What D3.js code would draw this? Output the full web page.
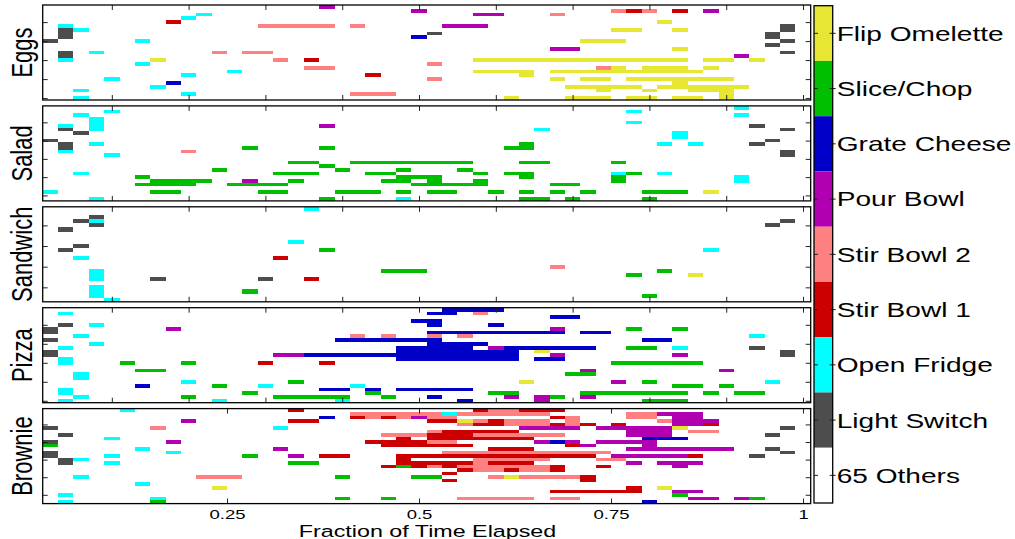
<!DOCTYPE html>
<html>
<head>
<meta charset="utf-8">
<script src="https://cdn.jsdelivr.net/npm/d3@7"></script>
<style>
  body { margin: 0; background: #fff; }
  svg { display: block; }
</style>
</head>
<body>
<script>
// categories, top to bottom of the colour bar
var catNames = ["Flip Omelette", "Slice/Chop", "Grate Cheese", "Pour Bowl", "Stir Bowl 2",
                "Stir Bowl 1", "Open Fridge", "Light Switch", "65 Others"];
var catCodes = ["Y", "G", "B", "P", "S", "R", "C", "L", "O"];
var catColors = ["#e6e633", "#00bf00", "#0000c8", "#b000b0", "#ff8080",
                 "#cc0000", "#00ffff", "#4d4d4d", "#ffffff"];

var dishes = ["Eggs", "Salad", "Sandwich", "Pizza", "Brownie"];
var rowCounts = [25, 26, 23, 25, 27];
var nBins = 50;

// [row, first bin, last bin, activity]
var eggsSegs = [
  [1,19,19,"P"],
  [2,25,25,"P"],[2,38,38,"S"],[2,39,39,"R"],[2,40,40,"S"],[2,42,42,"R"],[2,44,44,"P"],
  [3,11,11,"C"],[3,29,30,"P"],[3,34,34,"S"],
  [4,10,10,"C"],
  [5,9,9,"R"],[5,41,41,"Y"],
  [6,2,2,"C"],[6,15,19,"S"],[6,21,21,"S"],[6,27,29,"P"],[6,49,49,"L"],
  [7,2,2,"L"],[7,3,3,"C"],[7,38,39,"Y"],[7,42,42,"Y"],[7,49,49,"L"],
  [8,2,2,"L"],[8,26,26,"L"],[8,48,48,"L"],
  [9,2,2,"L"],[9,25,25,"B"],[9,48,48,"L"],
  [10,1,1,"L"],[10,7,7,"C"],[10,36,38,"Y"],[10,49,49,"L"],
  [11,48,48,"L"],
  [12,34,35,"P"],[12,42,42,"Y"],
  [13,2,2,"L"],[13,4,4,"C"],[13,12,12,"S"],[13,14,15,"S"],[13,49,49,"L"],
  [14,2,2,"L"],[14,46,46,"P"],
  [15,2,2,"C"],[15,8,8,"Y"],[15,16,16,"S"],[15,18,18,"R"],[15,29,42,"Y"],[15,44,45,"Y"],[15,47,47,"Y"],
  [16,7,7,"C"],[16,26,26,"S"],
  [17,18,19,"S"],[17,37,37,"S"],[17,38,38,"Y"],[17,40,42,"Y"],[17,44,44,"Y"],
  [18,13,13,"C"],[18,29,32,"Y"],[18,34,43,"Y"],
  [19,10,10,"C"],[19,22,22,"R"],[19,32,32,"Y"],
  [20,5,5,"C"],[20,26,26,"S"],[20,34,34,"Y"],[20,36,37,"Y"],[20,39,45,"Y"],
  [21,9,9,"B"],[21,42,42,"Y"],
  [22,8,8,"C"],[22,35,39,"Y"],[22,41,46,"Y"],
  [23,3,3,"C"],[23,37,37,"Y"],[23,40,40,"Y"],[23,43,45,"Y"],
  [24,10,10,"C"],[24,21,23,"S"],[24,45,45,"Y"],
  [25,3,3,"C"],[25,31,31,"Y"],[25,35,37,"Y"],[25,39,40,"Y"],[25,42,43,"Y"],[25,45,45,"Y"]
];

var saladSegs = [
  [1,46,46,"C"],
  [2,5,5,"C"],[2,39,39,"C"],
  [3,3,3,"C"],[3,46,46,"C"],
  [4,4,4,"C"],
  [5,4,4,"C"],[5,39,39,"C"],
  [6,2,2,"C"],[6,4,4,"C"],[6,19,19,"P"],[6,47,47,"L"],
  [7,2,2,"L"],[7,4,4,"C"],[7,33,33,"C"],[7,49,49,"L"],
  [8,3,3,"L"],[8,42,42,"C"],
  [9,42,42,"C"],
  [10,1,1,"L"],[10,48,48,"L"],
  [11,2,2,"L"],[11,4,4,"C"],[11,32,32,"G"],[11,41,41,"C"],[11,43,43,"C"],[11,47,47,"L"],
  [12,2,2,"L"],[12,14,14,"G"],[12,19,19,"G"],[12,31,32,"G"],
  [13,2,2,"C"],[13,10,10,"S"],[13,49,49,"L"],
  [14,5,5,"C"],[14,49,49,"L"],
  [16,17,18,"G"],[16,21,28,"G"],[16,32,33,"G"],[16,38,38,"G"],
  [17,19,19,"G"],
  [18,12,12,"G"],[18,20,20,"G"],[18,24,24,"G"],[18,28,28,"G"],
  [19,3,3,"C"],[19,16,18,"G"],[19,22,23,"G"],[19,29,29,"G"],[19,31,32,"G"],[19,38,38,"C"],[19,39,39,"G"],[19,41,41,"C"],
  [20,7,7,"G"],[20,24,26,"G"],[20,32,32,"G"],[20,38,38,"G"],[20,46,46,"C"],
  [21,8,11,"G"],[21,14,14,"P"],[21,17,17,"G"],[21,23,24,"G"],[21,26,26,"G"],[21,29,29,"G"],[21,38,38,"G"],[21,46,46,"C"],
  [22,7,10,"G"],[22,13,16,"G"],[22,25,29,"G"],[22,34,35,"G"],
  [24,1,1,"C"],[24,8,9,"G"],[24,15,16,"G"],[24,20,22,"G"],[24,24,24,"G"],[24,26,27,"G"],[24,30,30,"G"],
  [24,32,32,"G"],[24,34,34,"G"],[24,36,36,"G"],[24,40,42,"G"],[24,44,44,"Y"],
  [26,4,4,"C"],[26,19,19,"G"],[26,24,24,"C"],[26,32,33,"G"],[26,35,35,"G"],[26,40,40,"G"]
];

var sandwichSegs = [
  [1,18,18,"C"],
  [3,4,4,"L"],
  [4,3,3,"L"],[4,4,4,"C"],[4,49,49,"L"],
  [5,4,4,"L"],[5,48,48,"L"],
  [6,2,2,"L"],
  [9,17,17,"C"],
  [10,3,3,"L"],
  [11,2,2,"L"],[11,19,19,"G"],[11,44,44,"C"],
  [13,3,3,"C"],[13,16,16,"R"],
  [15,34,34,"S"],
  [16,4,4,"C"],[16,23,25,"G"],[16,41,41,"G"],
  [17,4,4,"C"],[17,39,39,"G"],[17,43,43,"Y"],
  [18,4,4,"C"],[18,8,8,"L"],[18,15,15,"L"],[18,18,18,"R"],
  [20,4,4,"C"],
  [21,4,4,"C"],[21,14,14,"G"],
  [22,4,4,"C"],[22,40,40,"G"],
  [23,5,5,"C"]
];

var pizzaSegs = [
  [1,27,30,"B"],
  [2,2,2,"C"],[2,26,27,"B"],[2,29,29,"S"],
  [3,34,35,"B"],
  [4,25,26,"B"],
  [5,2,2,"L"],[5,4,4,"C"],[5,26,26,"B"],[5,30,30,"B"],
  [6,1,1,"L"],[6,9,9,"P"],[6,34,34,"P"],[6,39,39,"G"],[6,42,42,"G"],
  [7,1,1,"L"],[7,26,34,"B"],[7,36,37,"B"],
  [8,3,3,"C"],[8,21,21,"S"],[8,23,23,"S"],[8,26,26,"S"],[8,28,28,"S"],[8,47,47,"C"],
  [9,1,1,"L"],[9,20,26,"B"],[9,40,41,"B"],
  [10,4,4,"C"],[10,26,29,"B"],
  [11,2,2,"C"],[11,24,28,"B"],[11,30,30,"P"],[11,31,36,"B"],[11,39,40,"G"],[11,42,42,"C"],[11,47,47,"L"],
  [12,1,1,"L"],[12,24,31,"B"],[12,33,33,"Y"],[12,49,49,"L"],
  [13,1,1,"L"],[13,16,17,"P"],[13,18,31,"B"],[13,34,34,"P"],[13,42,42,"P"],[13,49,49,"L"],
  [14,2,2,"C"],[14,24,31,"B"],[14,33,34,"B"],
  [15,2,2,"C"],[15,6,6,"G"],[15,10,10,"G"],[15,15,15,"R"],[15,19,19,"R"],[15,38,43,"G"],
  [17,7,8,"G"],[17,36,36,"P"],[17,45,45,"P"],
  [18,3,3,"C"],[18,35,36,"G"],
  [19,3,3,"C"],
  [20,10,10,"C"],[20,17,17,"G"],[20,32,32,"Y"],[20,38,38,"P"],[20,40,40,"G"],[20,48,48,"C"],
  [21,7,7,"B"],[21,12,12,"G"],[21,15,15,"C"],[21,21,21,"C"],[21,42,43,"G"],[21,45,45,"G"],
  [22,2,2,"C"],[22,19,20,"B"],[22,22,22,"B"],[22,24,28,"B"],
  [23,2,2,"C"],[23,14,14,"G"],[23,22,22,"G"],[23,30,31,"G"],[23,36,42,"G"],[23,44,44,"G"],[23,46,47,"G"],
  [24,3,3,"C"],[24,10,10,"G"],[24,16,20,"G"],[24,23,23,"G"],[24,26,26,"B"],[24,31,31,"P"],[24,33,33,"P"],
  [24,34,34,"G"],[24,36,36,"P"],
  [25,2,2,"C"],[25,12,12,"C"],[25,20,20,"C"],[25,28,28,"B"],[25,33,33,"P"],[25,40,42,"G"]
];

var brownieSegs = [
  [1,6,6,"C"],[1,17,17,"R"],[1,29,29,"R"],[1,30,31,"S"],[1,32,34,"R"],
  [2,21,26,"S"],[2,27,27,"C"],[2,28,33,"S"],[2,39,40,"S"],[2,41,43,"P"],
  [3,19,19,"B"],[3,21,21,"R"],[3,22,22,"S"],[3,23,23,"R"],[3,24,24,"S"],[3,25,25,"P"],[3,26,27,"S"],
  [3,34,34,"R"],[3,35,35,"S"],[3,39,40,"S"],[3,42,43,"P"],
  [4,10,10,"P"],[4,17,18,"R"],[4,26,27,"R"],[4,28,28,"Y"],[4,29,29,"S"],[4,30,30,"R"],[4,31,33,"S"],
  [4,35,35,"S"],[4,41,41,"S"],[4,42,44,"P"],
  [5,28,28,"S"],[5,29,30,"R"],[5,31,33,"S"],[5,34,34,"R"],[5,35,35,"S"],[5,36,36,"R"],[5,38,38,"R"],
  [5,42,43,"P"],[5,44,44,"R"],
  [6,1,1,"L"],[6,8,8,"S"],[6,16,16,"C"],[6,32,35,"P"],[6,37,41,"P"],[6,42,42,"Y"],[6,49,49,"L"],
  [7,26,26,"S"],[7,27,31,"R"],[7,39,41,"P"],[7,43,44,"S"],
  [8,2,2,"L"],[8,23,25,"S"],[8,26,28,"R"],[8,29,34,"S"],[8,39,41,"P"],[8,48,48,"L"],
  [9,5,5,"C"],[9,24,24,"R"],[9,26,32,"R"],[9,40,42,"B"],
  [10,1,1,"L"],[10,9,9,"P"],[10,22,25,"R"],[10,26,27,"S"],[10,33,33,"P"],[10,34,34,"B"],[10,35,35,"P"],[10,37,40,"P"],
  [11,1,1,"G"],[11,23,28,"R"],[11,35,35,"R"],[11,36,36,"P"],[11,40,40,"P"],
  [12,7,7,"C"],[12,16,16,"P"],[12,30,32,"R"],[12,39,45,"P"],[12,48,48,"L"],
  [13,1,1,"L"],[13,9,9,"C"],[13,27,37,"S"],[13,49,49,"L"],
  [14,1,1,"L"],[14,5,5,"C"],[14,14,14,"G"],[14,17,17,"P"],[14,19,20,"R"],[14,24,36,"R"],[14,38,42,"P"],
  [14,43,43,"R"],[14,47,47,"L"],
  [15,2,2,"L"],[15,3,3,"C"],[15,24,24,"R"],[15,29,33,"S"],[15,37,38,"S"],
  [16,2,2,"L"],[16,5,5,"C"],[16,17,18,"G"],[16,24,28,"R"],[16,29,29,"S"],[16,30,32,"R"],[16,39,39,"P"],[16,41,43,"P"],
  [17,23,23,"R"],[17,24,24,"G"],[17,25,25,"R"],[17,26,26,"S"],[17,27,27,"R"],[17,28,33,"S"],[17,34,34,"R"],
  [17,37,37,"R"],[17,42,42,"P"],
  [18,28,28,"R"],[18,29,30,"S"],[18,31,31,"R"],[18,32,33,"S"],[18,34,34,"R"],
  [19,27,27,"R"],
  [20,3,3,"C"],[20,11,13,"S"],[20,20,20,"G"],[20,25,26,"G"],[20,30,30,"S"],[20,31,31,"Y"],[20,32,35,"S"],[20,36,36,"R"],
  [21,27,27,"R"],[21,36,36,"R"],
  [22,7,7,"C"],
  [23,12,12,"Y"],[23,39,39,"R"],[23,41,41,"Y"],
  [24,34,39,"R"],[24,42,43,"P"],
  [25,2,2,"C"],[25,42,42,"G"],
  [26,8,8,"C"],[26,20,20,"G"],[26,23,23,"G"],[26,28,32,"S"],[26,34,35,"S"],[26,43,44,"P"],[26,46,46,"P"],[26,47,47,"G"],
  [27,2,2,"C"],[27,8,8,"G"],[27,40,40,"B"]
];

var panelSegs = [eggsSegs, saladSegs, sandwichSegs, pizzaSegs, brownieSegs];
var panelXTicks = [0.1, 0.2, 0.3, 0.4, 0.5, 0.6, 0.7, 0.8, 0.9, 1];
var bottomXTicks = [0.25, 0.5, 0.75, 1];
var rowTicks = [5, 10, 15, 20, 25];

var W = 1015, H = 539;
var stretch = 1.37;           // the picture is wider than it is tall
var font = "'Liberation Sans', Arial, Helvetica, sans-serif";
var panelH = 95, panelGap = 100.9, panelTop0 = 5;

var color = d3.scaleOrdinal().domain(catCodes).range(catColors);

var x = d3.scaleLinear()
    .domain([0.5 / nBins, (nBins + 0.5) / nBins])
    .range([42.7, 810.7]);

var svg = d3.select("body").append("svg")
    .attr("width", W)
    .attr("height", H)
    .style("font-family", font);

svg.append("rect").attr("width", W).attr("height", H).attr("fill", "#fff");

dishes.forEach(function(dish, i) {
    var top = panelTop0 + i * panelGap;
    var n = rowCounts[i];
    var y = d3.scaleLinear().domain([0.5, n + 0.5]).range([top, top + panelH]);
    var g = svg.append("g");

    g.selectAll(".cell")
        .data(panelSegs[i])
        .join("rect")
        .attr("class", "cell")
        .attr("x", function(d) { return x((d[1] - 0.5) / nBins); })
        .attr("width", function(d) { return x((d[2] + 0.5) / nBins) - x((d[1] - 0.5) / nBins); })
        .attr("y", function(d) { return y(d[0] - 0.5); })
        .attr("height", function(d) { return y(d[0] + 0.5) - y(d[0] - 0.5); })
        .attr("fill", function(d) { return color(d[3]); })
        .attr("shape-rendering", "crispEdges");

    var last = i == dishes.length - 1;
    var xt = last ? bottomXTicks : panelXTicks;
    var yt = rowTicks.filter(function(v) { return v <= n; });

    var axes = [
        [d3.axisTop(x).tickValues(xt).tickFormat(""), "translate(0," + top + ")"],
        [d3.axisBottom(x).tickValues(xt).tickPadding(6)
            .tickFormat(last ? function(v) { return v == 1 ? "1" : String(v); } : ""),
         "translate(0," + (top + panelH) + ")"],
        [d3.axisLeft(y).tickValues(yt).tickFormat(""), "translate(" + x.range()[0] + ",0)"],
        [d3.axisRight(y).tickValues(yt).tickFormat(""), "translate(" + x.range()[1] + ",0)"]
    ];
    axes.forEach(function(a) {
        var ag = g.append("g")
            .attr("transform", a[1])
            .call(a[0].tickSizeInner(-5).tickSizeOuter(0));
        ag.select(".domain").remove();
        ag.selectAll("line").attr("stroke", "#222");
        ag.selectAll("text")
            .attr("font-family", font)
            .attr("font-size", 13.5)
            .attr("fill", "#000")
            .attr("transform", "scale(" + stretch + ",1)");
        ag.attr("font-family", font);
    });

    g.append("rect")
        .attr("x", x.range()[0])
        .attr("y", top)
        .attr("width", x.range()[1] - x.range()[0])
        .attr("height", panelH)
        .attr("fill", "none")
        .attr("stroke", "#000")
        .attr("stroke-width", 1.3);

    svg.append("text")
        .attr("transform", "translate(31.5," + (top + panelH / 2) + ") scale(" + stretch + ",1) rotate(-90)")
        .attr("text-anchor", "middle")
        .attr("font-size", 22)
        .attr("fill", "#000")
        .text(dish);
});

svg.append("text")
    .attr("transform", "translate(427.5,536.5) scale(" + stretch + ",1)")
    .attr("text-anchor", "middle")
    .attr("font-size", 17)
    .attr("fill", "#000")
    .text("Fraction of Time Elapsed");

// colour bar
var cb = d3.scaleBand().domain(catNames).range([5.7, 503]);
var cbX0 = 814, cbX1 = 832.7;
var bar = svg.append("g");

bar.selectAll("rect")
    .data(catNames)
    .join("rect")
    .attr("x", cbX0)
    .attr("width", cbX1 - cbX0)
    .attr("y", function(d) { return cb(d); })
    .attr("height", cb.bandwidth())
    .attr("fill", function(d, i) { return catColors[i]; });

bar.selectAll(".tl")
    .data(catNames)
    .join("line")
    .attr("class", "tl")
    .attr("x1", cbX0).attr("x2", cbX0 + 4)
    .attr("y1", function(d) { return cb(d) + cb.bandwidth() / 2; })
    .attr("y2", function(d) { return cb(d) + cb.bandwidth() / 2; })
    .attr("stroke", "#222");

bar.selectAll(".tr")
    .data(catNames)
    .join("line")
    .attr("class", "tr")
    .attr("x1", cbX1 - 3).attr("x2", cbX1 + 3)
    .attr("y1", function(d) { return cb(d) + cb.bandwidth() / 2; })
    .attr("y2", function(d) { return cb(d) + cb.bandwidth() / 2; })
    .attr("stroke", "#222");

bar.append("rect")
    .attr("x", cbX0).attr("y", 5.7)
    .attr("width", cbX1 - cbX0).attr("height", 503 - 5.7)
    .attr("fill", "none")
    .attr("stroke", "#000")
    .attr("stroke-width", 1.3);

bar.selectAll(".lab")
    .data(catNames)
    .join("text")
    .attr("class", "lab")
    .attr("transform", function(d) {
        return "translate(836.7," + (cb(d) + cb.bandwidth() / 2) + ") scale(" + stretch + ",1)";
    })
    .attr("dy", "0.36em")
    .attr("font-size", 20.5)
    .attr("fill", "#000")
    .text(function(d) { return d; });
</script>
</body>
</html>
